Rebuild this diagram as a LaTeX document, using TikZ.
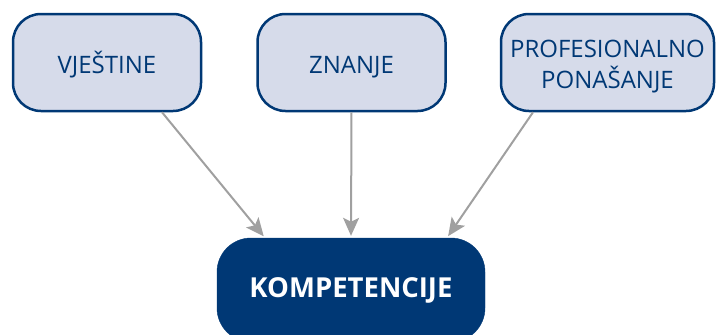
\documentclass[tikz,border=0pt]{standalone}
\usepackage{fontspec}
\setmainfont{Open Sans}
\usetikzlibrary{arrows.meta}
\definecolor{kompblue}{RGB}{0,56,117}
\definecolor{kompfill}{RGB}{214,219,234}
\definecolor{kompgray}{RGB}{160,160,160}

\begin{document}
\begin{tikzpicture}[x=1pt, y=-1pt,
  area/.style={draw=kompblue, line width=2.5pt, rounded corners=28pt, fill=kompfill, text=kompblue, minimum height=97pt, align=center, text depth=0pt, font=\fontsize{24}{31}\selectfont},
  goal/.style={draw=kompblue, fill=kompblue, rounded corners=34pt, text=white, minimum width=268pt, minimum height=104pt, font=\bfseries\fontsize{27.5}{31}\selectfont},
  feed/.style={draw=kompgray, line width=2pt, shorten >=2pt, -{Stealth[length=18pt, width=16pt, inset=4pt]}}]
\useasboundingbox (0,0) rectangle (716,335);
% the three parts
\node[area, minimum width=188pt, text height=21pt] (vjestine) at (107,62.5) {VJEŠTINE};
\node[area, minimum width=188pt, text height=21pt] (znanje) at (351.5,62.5) {ZNANJE};
\node[area, minimum width=213pt, text height=51pt] (ponasanje) at (607.5,62.5) {PROFESIONALNO\\PONAŠANJE};
% the whole
\node[goal] (kompetencije) at (351,290) {KOMPETENCIJE};
% arrows
\draw[feed] ([xshift=55pt]vjestine.south) -- ([xshift=-86pt]kompetencije.north);
\draw[feed] (znanje.south) -- (kompetencije.north);
\draw[feed] ([xshift=-74.5pt]ponasanje.south) -- ([xshift=96pt]kompetencije.north);
\end{tikzpicture}
\end{document}
